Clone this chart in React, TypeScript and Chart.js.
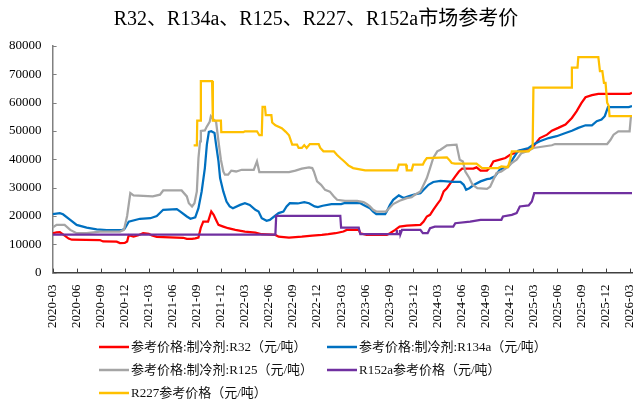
import React, { useEffect, useRef } from 'react';
import { Chart, registerables } from 'chart.js';

Chart.register(...registerables);

// x = months elapsed since 2020-03, y = price (元/吨)
const tickLabels = [
  '2020-03', '2020-06', '2020-09', '2020-12', '2021-03', '2021-06', '2021-09', '2021-12',
  '2022-03', '2022-06', '2022-09', '2022-12', '2023-03', '2023-06', '2023-09', '2023-12',
  '2024-03', '2024-06', '2024-09', '2024-12', '2025-03', '2025-06', '2025-09', '2025-12', '2026-03',
];

const r32: [number, number][] = [
  [0, 13900], [0.5, 14200], [0.9, 14300], [1.3, 13500], [2.0, 12000], [2.4, 11600], [5.9, 11500],
  [6.3, 11000], [8.0, 10900], [8.4, 10400], [9.0, 10500], [9.3, 11000], [9.5, 13200], [10.1, 12700],
  [10.7, 13200], [11.3, 13900], [12.0, 13700], [12.4, 13100], [13.0, 12600], [16.3, 12300],
  [16.75, 11900], [17.4, 11900], [17.8, 12100], [18.2, 12400], [18.5, 15900], [18.8, 18000],
  [19.4, 18000], [19.8, 21600], [20.1, 20400], [20.4, 18600], [20.7, 16850], [21.3, 16250],
  [21.9, 15670], [22.8, 15100], [24.0, 14500], [25.3, 14100], [26.1, 13550], [27.8, 13300],
  [28.2, 12700], [29.5, 12360], [31.1, 12700], [32.4, 13070], [33.6, 13300], [34.4, 13550],
  [35.3, 13900], [36.3, 14500], [36.7, 15080], [38.2, 15080], [38.4, 13900], [39.2, 13300],
  [41.7, 13300], [42.1, 13900], [42.75, 15080], [43.3, 16250], [44.2, 16600], [45.9, 16850],
  [46.3, 18000], [46.7, 19800], [47.1, 20400], [47.5, 22170], [48.0, 24200], [48.4, 25700],
  [48.8, 28650], [49.2, 29800], [49.8, 32200], [50.25, 33970], [50.7, 35700], [51.1, 36700],
  [52.5, 36700], [52.9, 37150], [53.4, 36000], [54.2, 36000], [54.6, 37200], [55.0, 39260],
  [55.8, 39900], [56.5, 40450], [57.1, 41600], [57.7, 42200], [58.3, 43050], [59.4, 43400],
  [60.0, 44600], [60.8, 47500], [61.7, 48700], [62.3, 50100], [63.1, 51100], [64.0, 52300],
  [64.8, 54600], [65.4, 57000], [66.0, 59900], [66.5, 61900], [67.3, 62650], [68.1, 63100],
  [72.0, 63100], [72.3, 63450],
];

const r134a: [number, number][] = [
  [0, 20640], [0.9, 21000], [1.3, 20600], [2.2, 18620], [3.0, 16850], [4.25, 15900], [5.5, 15300],
  [6.75, 14970], [8.6, 14970], [9.0, 15500], [9.5, 18000], [10.9, 19000], [12.2, 19200],
  [13.0, 20000], [13.8, 22170], [15.5, 22400], [15.9, 21600], [16.75, 19800], [17.2, 19000],
  [17.8, 19500], [18.2, 22760], [18.6, 28650], [19.0, 36900], [19.25, 45160], [19.5, 49660],
  [19.8, 49900], [20.2, 49300], [20.4, 45160], [20.7, 39260], [20.9, 33400], [21.3, 28650],
  [21.7, 25100], [22.1, 23350], [22.5, 22750], [23.4, 23900], [24.0, 24500], [24.6, 23900],
  [25.3, 22150], [25.7, 21550], [26.1, 19200], [26.7, 18270], [27.1, 18600], [28.2, 21000],
  [28.8, 21550], [29.2, 23350], [29.6, 24500], [30.6, 24400], [31.4, 24900], [32.0, 24500],
  [32.7, 23350], [33.1, 23100], [33.7, 23600], [34.8, 24200], [36.0, 24200], [36.5, 24600],
  [38.4, 24500], [38.8, 23900], [39.6, 22750], [40.0, 21550], [40.4, 20630], [41.5, 20630],
  [41.7, 21550], [42.1, 23900], [42.5, 25700], [43.2, 27250], [43.8, 26300], [44.4, 26900],
  [45.0, 27480], [45.9, 28050], [46.3, 29250], [46.9, 31000], [47.5, 32000], [48.4, 32400],
  [49.2, 32200], [50.0, 32000], [50.9, 32000], [51.3, 31000], [51.6, 29250], [52.0, 29800],
  [52.6, 31000], [53.4, 32200], [54.2, 33000], [54.6, 33200], [55.2, 34000], [55.8, 36350],
  [56.9, 37500], [57.5, 40450], [58.1, 43050], [59.4, 44000], [60.0, 45200], [60.8, 46350],
  [61.9, 47500], [62.9, 48150], [64.0, 49300], [64.8, 50100], [65.6, 51100], [66.5, 52000],
  [67.3, 52000], [67.9, 53430], [68.5, 54000], [68.9, 55200], [69.3, 58400], [71.9, 58400],
  [72.3, 58800],
];

const r125: [number, number][] = [
  [0, 15900], [0.5, 16850], [1.5, 16850], [2.2, 15080], [3.0, 13900], [4.25, 13900], [5.1, 14200],
  [5.9, 14500], [8.4, 14500], [8.9, 15080], [9.3, 20000], [9.7, 28070], [10.1, 27250],
  [12.5, 26900], [13.4, 27500], [13.8, 29000], [16.1, 29000], [16.75, 26900], [17.0, 24500],
  [17.4, 23350], [17.7, 24500], [18.0, 28650], [18.2, 40400], [18.4, 46350], [18.5, 50000],
  [19.0, 50200], [19.2, 51300], [19.6, 53200], [19.75, 55200], [20.1, 54000], [20.4, 53200],
  [20.7, 46350], [21.0, 39850], [21.3, 35700], [21.5, 34570], [21.9, 34570], [22.3, 36000],
  [22.9, 35700], [23.6, 36300], [25.1, 36300], [25.5, 39260], [25.8, 35500], [29.5, 35500],
  [30.3, 36000], [31.1, 36700], [32.0, 37150], [32.4, 36900], [32.6, 35700], [33.0, 32200],
  [33.5, 31000], [34.0, 29200], [34.6, 28600], [35.1, 26900], [35.5, 25700], [36.5, 25350],
  [38.0, 25350], [38.8, 24900], [39.2, 24200], [39.6, 23350], [40.0, 22170], [40.4, 21550],
  [41.6, 21550], [42.0, 22750], [42.5, 24200], [43.3, 25350], [44.2, 26300], [44.8, 26600],
  [45.2, 27480], [45.9, 28650], [46.3, 31000], [46.7, 33400], [47.1, 36900], [47.5, 40450],
  [48.0, 42800], [48.4, 43400], [49.2, 44950], [50.4, 45200], [50.8, 39850], [51.2, 39260],
  [51.5, 35700], [52.0, 33400], [52.4, 31000], [53.0, 29800], [54.2, 29570], [54.6, 30300],
  [55.0, 32780], [55.4, 35150], [56.0, 35700], [56.9, 37500], [57.3, 38700], [57.9, 39850],
  [58.5, 42200], [59.4, 43050], [60.0, 44000], [62.3, 44950], [62.7, 45400], [69.2, 45400],
  [69.6, 46800], [70.0, 48700], [70.6, 49900], [72.0, 49900], [72.15, 54600], [72.3, 55200],
];

const r152a: [number, number][] = [
  [0, 13430], [27.8, 13430], [27.9, 20000], [35.9, 20000], [36.0, 15900], [38.2, 15900],
  [38.4, 13550], [42.9, 13550], [42.95, 15000], [43.0, 13550], [43.3, 13550], [43.35, 15000],
  [43.4, 13550], [43.6, 15080], [45.9, 15080], [46.2, 13900], [46.8, 13900], [47.1, 15670],
  [47.7, 16250], [50.0, 16250], [50.25, 17440], [52.1, 18000], [53.4, 18600], [56.0, 18620],
  [56.2, 19800], [57.3, 20400], [57.9, 21000], [58.3, 23350], [59.4, 23700], [59.8, 25100],
  [60.1, 28070], [72.3, 28070],
];

const r227: [number, number][] = [
  [17.6, 44930], [18.0, 44930], [18.05, 53680], [18.45, 53680], [18.5, 67600], [19.9, 67600],
  [20.0, 53680], [21.0, 53680], [21.05, 49560], [23.8, 49560], [24.0, 49900], [25.5, 49900],
  [25.8, 48500], [26.1, 48500], [26.2, 58550], [26.5, 58550], [26.6, 55570], [27.3, 55570],
  [27.4, 53000], [27.8, 52000], [28.6, 51000], [29.1, 49700], [29.5, 48500], [29.9, 45200],
  [30.5, 45200], [30.7, 44000], [31.1, 44000], [31.4, 45000], [31.7, 44000], [32.1, 45400],
  [33.2, 45400], [33.4, 44000], [33.8, 42800], [35.1, 42800], [35.5, 41500], [35.9, 40450],
  [36.3, 39500], [36.6, 38700], [36.9, 37850], [37.5, 36900], [39.0, 36100], [43.0, 36100],
  [43.2, 38100], [44.1, 38100], [44.2, 36100], [44.8, 36100], [45.0, 38100], [46.2, 38100],
  [46.4, 39260], [46.7, 40450], [49.2, 40700], [49.5, 39800], [49.8, 38700], [50.2, 38450],
  [52.9, 38450], [53.6, 36900], [55.6, 36900], [56.0, 37500], [56.8, 37200], [57.1, 39850],
  [57.3, 42800], [59.4, 42800], [59.6, 43500], [59.9, 44000], [60.0, 65280], [64.7, 65280],
  [64.8, 72350], [65.5, 72350], [65.6, 76100], [68.1, 76100], [68.3, 71150], [68.6, 71150],
  [68.8, 67000], [69.0, 67000], [69.2, 60000], [69.4, 58800], [69.5, 55200], [72.3, 55200],
];

const seriesNames = [
  '参考价格:制冷剂:R32（元/吨）',
  '参考价格:制冷剂:R134a（元/吨）',
  '参考价格:制冷剂:R125（元/吨）',
  'R152a参考价格（元/吨）',
  'R227参考价格（元/吨）',
];
const seriesData = [r32, r134a, r125, r152a, r227];
const seriesColors = ['#FF0000', '#0070C0', '#A5A5A5', '#7030A0', '#FFC000'];

const titleText = 'R32、R134a、R125、R227、R152a市场参考价';
const FONT = '"Liberation Serif", "Times New Roman", "Noto Sans CJK SC", serif';

export default function App() {
  const canvasRef = useRef<HTMLCanvasElement | null>(null);

  useEffect(() => {
    document.body.style.margin = '0';
    const canvas = canvasRef.current;
    if (!canvas) return;

    const innerTicks = {
      id: 'innerTicks',
      afterDatasetsDraw(chart: any) {
        const { ctx, chartArea, scales } = chart;
        const xs = scales.x;
        const ys = scales.y;
        ctx.save();
        ctx.lineWidth = 1;
        ctx.strokeStyle = '#404040';
        xs.ticks.forEach((t: any) => {
          const px = Math.round(xs.getPixelForValue(t.value)) + 0.5;
          ctx.beginPath();
          ctx.moveTo(px, chartArea.bottom);
          ctx.lineTo(px, chartArea.bottom - 4);
          ctx.stroke();
        });
        ctx.strokeStyle = '#808080';
        ys.ticks.forEach((t: any) => {
          const py = Math.round(ys.getPixelForValue(t.value)) + 0.5;
          ctx.beginPath();
          ctx.moveTo(chartArea.left, py);
          ctx.lineTo(chartArea.left + 4, py);
          ctx.stroke();
        });
        ctx.restore();
      },
    };

    const legendPos = [
      [99, 347], [327, 347], [99, 370], [327, 370], [99, 393],
    ];
    const customLegend = {
      id: 'customLegend',
      afterDraw(chart: any) {
        const ctx = chart.ctx;
        ctx.save();
        ctx.font = `13px ${FONT}`;
        ctx.textBaseline = 'middle';
        ctx.textAlign = 'left';
        seriesNames.forEach((name, i) => {
          const [lx, ly] = legendPos[i];
          ctx.strokeStyle = seriesColors[i];
          ctx.lineWidth = 2.5;
          ctx.beginPath();
          ctx.moveTo(lx, ly);
          ctx.lineTo(lx + 30, ly);
          ctx.stroke();
          ctx.fillStyle = '#111';
          ctx.fillText(name, lx + 32, ly + 1);
        });
        ctx.restore();
      },
    };

    const chart = new Chart(canvas, {
      type: 'line',
      data: {
        datasets: seriesData.map((d, i) => ({
          label: seriesNames[i],
          data: d.map(([x, y]) => ({ x, y })),
          borderColor: seriesColors[i],
          backgroundColor: seriesColors[i],
          borderWidth: 2.25,
          pointRadius: 0,
          tension: 0,
          fill: false,
          order: seriesData.length - i,
        })),
      },
      options: {
        animation: false,
        responsive: false,
        devicePixelRatio: 1,
        parsing: false as any,
        layout: { padding: { left: 0, right: 3, top: 0, bottom: 70 } },
        plugins: {
          legend: { display: false },
          tooltip: { enabled: false },
          title: {
            display: true,
            text: titleText,
            color: '#000',
            font: { family: FONT, size: 20, weight: 'normal' },
            padding: { top: 8, bottom: 14 },
          },
        },
        scales: {
          x: {
            type: 'linear',
            min: 0,
            max: 72.3,
            grid: { display: false, drawTicks: false },
            border: { display: true, color: '#404040', width: 1.5 },
            ticks: {
              stepSize: 3,
              autoSkip: false,
              includeBounds: false,
              minRotation: 90,
              maxRotation: 90,
              padding: 12,
              color: '#000',
              font: { family: FONT, size: 13 },
              callback: (v: any) => {
                const idx = Math.round(Number(v) / 3);
                return Math.abs(Number(v) - idx * 3) < 1e-6 ? tickLabels[idx] ?? '' : '';
              },
            },
            afterBuildTicks: (s: any) => {
              s.ticks = tickLabels.map((_, i) => ({ value: i * 3 }));
            },
            afterFit: (s: any) => {
              s.height = 62.4;
              s.paddingLeft = 0;
              s.paddingRight = 0;
            },
          },
          y: {
            type: 'linear',
            min: 0,
            max: 80000,
            grid: { display: false, drawTicks: false },
            border: { display: true, color: '#808080', width: 1.5 },
            ticks: {
              stepSize: 10000,
              padding: 11,
              color: '#000',
              font: { family: FONT, size: 13 },
              callback: (v: any) => String(v),
            },
            afterFit: (s: any) => {
              s.width = 52.6;
            },
          },
        },
      } as any,
      plugins: [innerTicks, customLegend],
    });

    return () => {
      chart.destroy();
    };
  }, []);

  return (
    <div style={{ width: 635, height: 405, position: 'relative', background: '#fff' }}>
      <canvas ref={canvasRef} width={635} height={405} style={{ display: 'block' }} />
    </div>
  );
}
